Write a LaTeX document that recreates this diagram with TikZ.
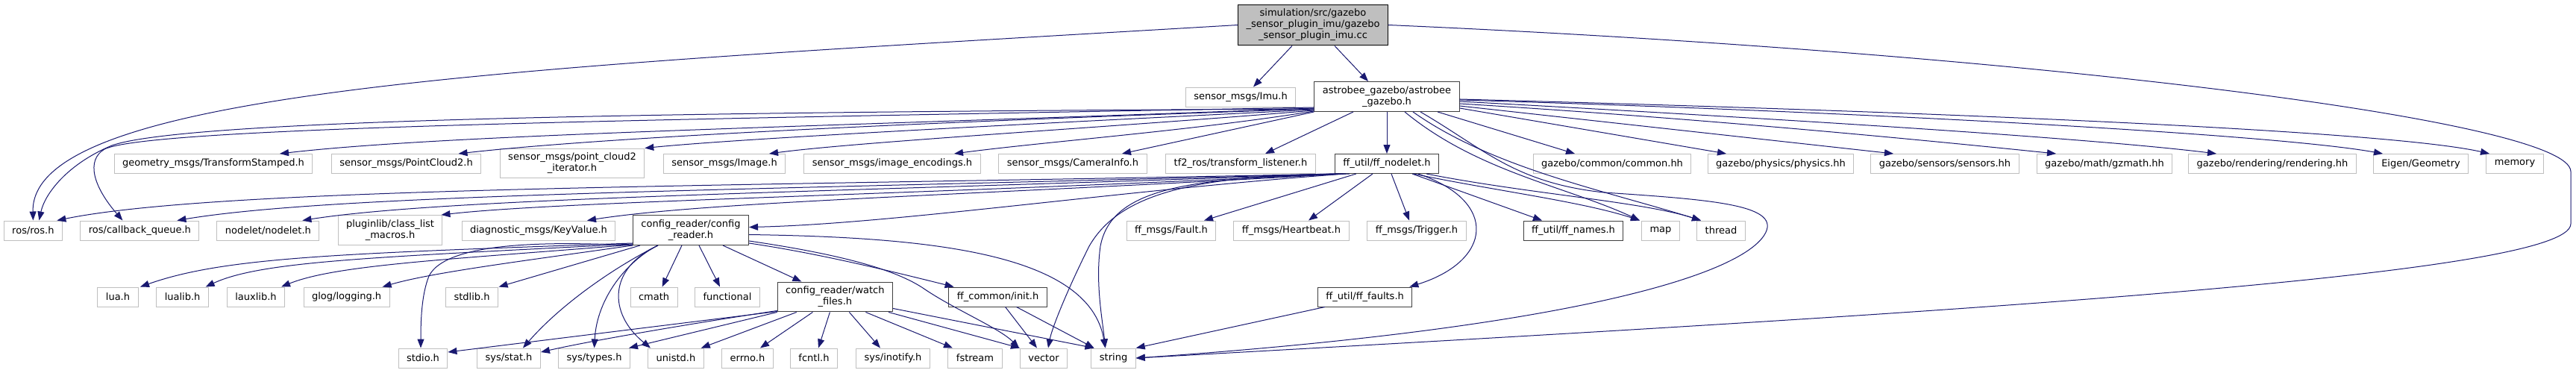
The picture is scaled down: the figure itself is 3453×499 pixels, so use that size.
\documentclass[tikz,border=0pt]{standalone}
\usepackage{fontspec}
\setmainfont{DejaVu Sans}
\usetikzlibrary{arrows.meta}
\definecolor{edgeblue}{HTML}{191970}
\definecolor{extgray}{HTML}{BFBFBF}
\definecolor{docgray}{HTML}{404040}
\definecolor{rootgray}{HTML}{BFBFBF}

\begin{document}
\begin{tikzpicture}[x=1pt,y=-1pt,
  extbox/.style={draw=extgray, fill=white, line width=1pt, inner xsep=11pt, inner ysep=6pt,
    minimum height=26pt, align=center, font=\fontsize{13}{15}\selectfont},
  docbox/.style={extbox, draw=docgray},
  rootbox/.style={extbox, draw=black, fill=rootgray},
  dep/.style={edgeblue, line width=1pt, -{Triangle[length=12pt,width=9pt]}}]
  \fill[white] (0,0) rectangle (3453,499);
  \useasboundingbox (0,0) rectangle (3453,499);

  \node[rootbox] (root) at (1760,33.5) {simulation/src/gazebo\\\_sensor\_plugin\_imu/gazebo\\\_sensor\_plugin\_imu.cc};
  \node[extbox] (imu) at (1663,130) {sensor\_msgs/Imu.h};
  \node[docbox] (astro) at (1859,129.5) {astrobee\_gazebo/astrobee\\\_gazebo.h};

  \node[extbox] (geom) at (286,219.5) {geometry\_msgs/TransformStamped.h};
  \node[extbox] (pctwo) at (544.5,219.5) {sensor\_msgs/PointCloud2.h};
  \node[extbox] (pcit) at (767,219) {sensor\_msgs/point\_cloud2\\\_iterator.h};
  \node[extbox] (image) at (971,219.5) {sensor\_msgs/Image.h};
  \node[extbox] (enc) at (1196,219.5) {sensor\_msgs/image\_encodings.h};
  \node[extbox] (caminfo) at (1438,219.5) {sensor\_msgs/CameraInfo.h};
  \node[extbox] (tflisten) at (1663,219.5) {tf2\_ros/transform\_listener.h};
  \node[docbox] (ffnodelet) at (1859,219.5) {ff\_util/ff\_nodelet.h};
  \node[extbox] (common) at (2161,219.5) {gazebo/common/common.hh};
  \node[extbox] (physics) at (2387,219.5) {gazebo/physics/physics.hh};
  \node[extbox] (sensors) at (2607,219.5) {gazebo/sensors/sensors.hh};
  \node[extbox] (gzmath) at (2821,219.5) {gazebo/math/gzmath.hh};
  \node[extbox] (rendering) at (3046,219.5) {gazebo/rendering/rendering.hh};
  \node[extbox] (eigen) at (3245,219.5) {Eigen/Geometry};
  \node[extbox] (memory) at (3371,219.5) {memory};

  \node[extbox] (ros) at (44.4,309) {ros/ros.h};
  \node[extbox] (cbq) at (187.4,309) {ros/callback\_queue.h};
  \node[extbox] (nodelet) at (359.4,309) {nodelet/nodelet.h};
  \node[extbox] (pluginlib) at (523,308.5) {pluginlib/class\_list\\\_macros.h};
  \node[extbox] (keyvalue) at (722,309) {diagnostic\_msgs/KeyValue.h};
  \node[docbox] (config) at (926,308.5) {config\_reader/config\\\_reader.h};
  \node[extbox] (fault) at (1570,309) {ff\_msgs/Fault.h};
  \node[extbox] (heartbeat) at (1731,309) {ff\_msgs/Heartbeat.h};
  \node[extbox] (trigger) at (1899,309) {ff\_msgs/Trigger.h};
  \node[docbox] (names) at (2109,309) {ff\_util/ff\_names.h};
  \node[extbox] (map) at (2226,309) {map};
  \node[extbox] (thread) at (2307,309) {thread};

  \node[extbox] (lua) at (158,398) {lua.h};
  \node[extbox] (lualib) at (244.6,398) {lualib.h};
  \node[extbox] (lauxlib) at (343,398) {lauxlib.h};
  \node[extbox] (glog) at (464.6,398) {glog/logging.h};
  \node[extbox] (stdlib) at (632.6,398) {stdlib.h};
  \node[extbox] (cmath) at (876.6,398) {cmath};
  \node[extbox] (functional) at (975,398) {functional};
  \node[docbox] (watch) at (1119.4,398) {config\_reader/watch\\\_files.h};
  \node[docbox] (init) at (1337.6,398) {ff\_common/init.h};
  \node[docbox] (faults) at (1829.6,398) {ff\_util/ff\_faults.h};

  \node[extbox] (stdio) at (567,480) {stdio.h};
  \node[extbox] (stat) at (682,480) {sys/stat.h};
  \node[extbox] (types) at (796.6,480) {sys/types.h};
  \node[extbox] (unistd) at (906,480) {unistd.h};
  \node[extbox] (errno) at (1002,480) {errno.h};
  \node[extbox] (fcntl) at (1091,480) {fcntl.h};
  \node[extbox] (inotify) at (1197,480) {sys/inotify.h};
  \node[extbox] (fstream) at (1307,480) {fstream};
  \node[extbox] (vector) at (1399,480) {vector};
  \node[extbox] (string) at (1492.6,480) {string};

  \draw[dep] (root.west) .. controls (700,90) and (40,120) .. (ros.north);
  \draw[dep] ([xshift=-28pt]root.south) -- ([xshift=17pt]imu.north);
  \draw[dep] ([xshift=29pt]root.south) -- ([xshift=-25pt]astro.north);
  \draw[dep] (root.east) .. controls (2700,70) and (3446,160) .. (3446,230) -- (3446,300)
    .. controls (3446,370) and (2600,420) .. (string.east);

  \draw[dep] ([yshift=4pt]astro.south west) .. controls (900,150) and (250,160) .. (150,195)
    .. controls (90,220) and (60,260) .. ([xshift=8pt]ros.north);
  \draw[dep] ([yshift=6pt]astro.south west) .. controls (900,160) and (200,170) .. (140,200)
    .. controls (115,215) and (125,250) .. ([xshift=-23pt]cbq.north);
  \draw[dep] ([yshift=5pt]astro.south west) .. controls (1100,170) and (600,180) .. ([xshift=89pt]geom.north);
  \draw[dep] ([yshift=4pt]astro.south west) .. controls (1200,165) and (800,185) .. ([xshift=70pt]pctwo.north);
  \draw[dep] ([yshift=3pt]astro.south west) .. controls (1400,165) and (1000,185) .. (pcit.north east);
  \draw[dep] ([yshift=2pt]astro.south west) .. controls (1500,170) and (1150,190) .. ([xshift=60pt]image.north);
  \draw[dep] ([yshift=1pt]astro.south west) .. controls (1600,175) and (1400,190) .. ([xshift=83pt]enc.north);
  \draw[dep] (astro.south west) -- ([xshift=66pt]caminfo.north);
  \draw[dep] ([xshift=-45pt]astro.south) -- ([xshift=33pt]tflisten.north);
  \draw[dep] (astro.south) -- (ffnodelet.north);
  \draw[dep] ([xshift=68pt]astro.south) -- ([xshift=-50pt]common.north);
  \draw[dep] ([yshift=5pt]astro.south east) -- ([xshift=-73pt]physics.north);
  \draw[dep] ([yshift=8pt]astro.south east) -- ([xshift=-69pt]sensors.north);
  \draw[dep] ([yshift=11pt]astro.south east) .. controls (2300,160) and (2600,190) .. ([xshift=-65pt]gzmath.north);
  \draw[dep] ([yshift=14pt]astro.south east) .. controls (2400,160) and (2800,185) .. ([xshift=-75pt]rendering.north);
  \draw[dep] ([yshift=16pt]astro.south east) .. controls (2500,150) and (3050,180) .. ([xshift=-51pt]eigen.north);
  \draw[dep] ([yshift=17pt]astro.south east) .. controls (2600,150) and (3200,175) .. ([xshift=-34pt]memory.north);
  \draw[dep] ([xshift=24pt]astro.south) .. controls (1980,230) and (2100,250) .. ([xshift=-28pt]map.north);
  \draw[dep] ([xshift=35pt]astro.south) .. controls (2000,225) and (2150,255) .. ([xshift=-27pt]thread.north);
  \draw[dep] ([xshift=45pt]astro.south) .. controls (1990,200) and (2030,245) .. (2150,258)
    .. controls (2300,268) and (2390,275) .. (2365,315) .. controls (2330,370) and (2100,440) .. (string.east);

  \draw[dep] (ffnodelet.south west) .. controls (1000,250) and (300,250) .. ([xshift=32pt]ros.north);
  \draw[dep] ([xshift=3pt]ffnodelet.south west) .. controls (1000,255) and (450,260) .. ([xshift=50pt]cbq.north);
  \draw[dep] ([xshift=6pt]ffnodelet.south west) .. controls (1100,258) and (600,265) .. ([xshift=46pt]nodelet.north);
  \draw[dep] ([xshift=9pt]ffnodelet.south west) .. controls (1200,262) and (750,270) .. ([xshift=-2pt]pluginlib.north east);
  \draw[dep] ([xshift=12pt]ffnodelet.south west) .. controls (1300,262) and (950,270) .. ([xshift=65pt]keyvalue.north);
  \draw[dep] ([xshift=15pt]ffnodelet.south west) .. controls (1500,255) and (1200,300) .. ([yshift=4pt]config.east);
  \draw[dep] ([xshift=29pt]ffnodelet.south west) -- ([xshift=44pt]fault.north);
  \draw[dep] ([xshift=-19pt]ffnodelet.south) -- ([xshift=23pt]heartbeat.north);
  \draw[dep] ([xshift=6pt]ffnodelet.south) -- ([xshift=-10pt]trigger.north);
  \draw[dep] ([xshift=34pt]ffnodelet.south) -- ([xshift=-42pt]names.north);
  \draw[dep] ([xshift=36pt]ffnodelet.south) .. controls (2000,255) and (2120,270) .. ([xshift=-28pt]map.north);
  \draw[dep] ([xshift=53pt]ffnodelet.south) .. controls (2050,260) and (2200,270) .. ([xshift=-27pt]thread.north);
  \draw[dep] ([xshift=42pt]ffnodelet.south) .. controls (2010,270) and (2000,350) .. ([xshift=-4pt]faults.north east);
  \draw[dep] ([xshift=10pt]ffnodelet.south west) .. controls (1600,235) and (1500,260) .. (1460,330)
    .. controls (1430,390) and (1410,440) .. ([xshift=6pt]vector.north);
  \draw[dep] ([xshift=20pt]ffnodelet.south west) .. controls (1600,238) and (1490,250) .. (1475,330)
    .. controls (1468,380) and (1478,430) .. ([xshift=-11pt]string.north);
  \draw[dep] ([xshift=10pt]faults.south west) -- (string.north east);

  \draw[dep] ([yshift=3pt]config.south west) .. controls (450,340) and (300,345) .. ([xshift=30pt]lua.north);
  \draw[dep] ([yshift=2pt]config.south west) .. controls (500,345) and (350,350) .. ([xshift=31pt]lualib.north);
  \draw[dep] ([yshift=1pt]config.south west) .. controls (600,348) and (450,355) .. ([xshift=34pt]lauxlib.north);
  \draw[dep] (config.south west) .. controls (700,350) and (580,365) .. ([xshift=48pt]glog.north);
  \draw[dep] ([xshift=10pt]config.south west) -- ([xshift=36pt]stdlib.north);
  \draw[dep] (config.south west) .. controls (760,325) and (600,320) .. (575,370)
    .. controls (565,395) and (564,430) .. ([xshift=-3pt]stdio.north);
  \draw[dep] ([xshift=34pt]config.south west) .. controls (820,360) and (750,410) .. ([xshift=19pt]stat.north);
  \draw[dep] ([xshift=34pt]config.south west) .. controls (840,350) and (800,400) .. (types.north);
  \draw[dep] ([xshift=34pt]config.south west) .. controls (815,360) and (815,420) .. ([xshift=-34pt]unistd.north);
  \draw[dep] ([xshift=-12pt]config.south) -- ([xshift=11pt]cmath.north);
  \draw[dep] ([xshift=11pt]config.south) -- ([xshift=-10pt]functional.north);
  \draw[dep] ([xshift=43pt]config.south) -- ([xshift=-45pt]watch.north);
  \draw[dep] ([yshift=3pt]config.south east) .. controls (1100,340) and (1200,365) .. ([xshift=-59pt]init.north);
  \draw[dep] ([yshift=6pt]config.south east) .. controls (1120,340) and (1200,360) .. (1240,388)
    .. controls (1280,415) and (1340,440) .. ([xshift=-33pt]vector.north);
  \draw[dep] ([yshift=-6pt]config.east) .. controls (1250,318) and (1460,340) .. ([xshift=-11pt]string.north);

  \draw[dep] ([yshift=1pt]watch.south west) -- ([yshift=8pt]stdio.east);
  \draw[dep] ([yshift=2pt]watch.south west) .. controls (950,430) and (800,455) .. ([yshift=8pt]stat.east);
  \draw[dep] (watch.south west) -- ([xshift=-2pt]types.north east);
  \draw[dep] ([xshift=26pt]watch.south west) -- ([xshift=-4pt]unistd.north east);
  \draw[dep] ([xshift=-30pt]watch.south) -- ([xshift=17pt]errno.north);
  \draw[dep] ([xshift=-7pt]watch.south) -- ([xshift=6pt]fcntl.north);
  \draw[dep] ([xshift=19pt]watch.south) -- ([xshift=-17pt]inotify.north);
  \draw[dep] ([xshift=41pt]watch.south) -- ([xshift=-30pt]fstream.north);
  \draw[dep] ([xshift=-6pt]watch.south east) -- ([xshift=-32pt]vector.north);
  \draw[dep] ([yshift=5pt]watch.south east) -- ([xshift=4pt]string.north west);

  \draw[dep] ([xshift=10pt]init.south) -- ([xshift=-9pt]vector.north);
  \draw[dep] ([xshift=25pt]init.south) -- ([xshift=-26pt]string.north);
\end{tikzpicture}
\end{document}
